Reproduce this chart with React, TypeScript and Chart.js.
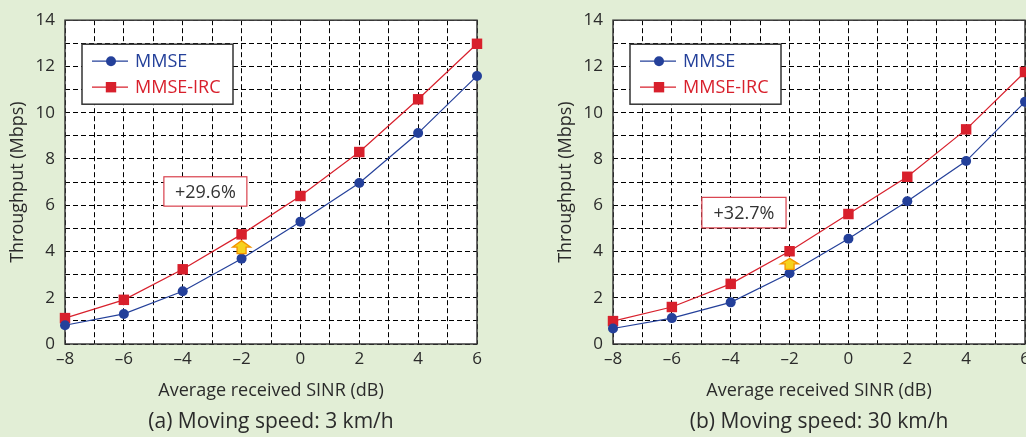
import React, { useEffect, useRef } from 'react';
import { Chart, registerables } from 'chart.js';

Chart.register(...registerables);

// ---- data ----
const sinrDb = [-8, -6, -4, -2, 0, 2, 4, 6];
const mmse3kmh = [0.81, 1.3, 2.28, 3.69, 5.29, 6.96, 9.12, 11.59];
const irc3kmh = [1.12, 1.91, 3.23, 4.74, 6.4, 8.3, 10.58, 12.98];
const mmse30kmh = [0.67, 1.12, 1.8, 3.06, 4.55, 6.17, 7.91, 10.47];
const irc30kmh = [0.99, 1.6, 2.6, 4.01, 5.62, 7.23, 9.28, 11.76];
const seriesNames = ['MMSE', 'MMSE-IRC'];
const gainLabels = ['+29.6%', '+32.7%'];
const captions = ['(a) Moving speed: 3 km/h', '(b) Moving speed: 30 km/h'];
const xTitle = 'Average received SINR (dB)';
const yTitle = 'Throughput (Mbps)';
const xRange = [-8, 6];
const yRange = [0, 14];
const gainAt = -2;

// ---- styles ----
const GREEN = '#e2eed6';
const BLUE = '#24409a';
const RED = '#d8202c';
const TEXT = '#2b2b2b';
const FONT = '"Open Sans", "Noto Sans", sans-serif';

type PanelCfg = {
  left: number;
  canvasWidth: number;
  plotLeft: number;
  plotRight: number;
  mmse: number[];
  irc: number[];
  gain: string;
  caption: string;
  box: { x1: number; x2: number; y1: number; y2: number };
  arrow: { tip: number; base: number };
};

const W = 1026;
const H = 437;

const panels: PanelCfg[] = [
  {
    left: 0,
    canvasWidth: 513,
    plotLeft: 65,
    plotRight: 477,
    mmse: mmse3kmh,
    irc: irc3kmh,
    gain: gainLabels[0],
    caption: captions[0],
    box: { x1: -4.64, x2: -1.82, y1: 7.23, y2: 5.96 },
    arrow: { tip: 4.47, base: 3.91 },
  },
  {
    left: 513,
    canvasWidth: 560,
    plotLeft: 100,
    plotRight: 512,
    mmse: mmse30kmh,
    irc: irc30kmh,
    gain: gainLabels[1],
    caption: captions[1],
    box: { x1: -4.98, x2: -2.12, y1: 6.34, y2: 5.02 },
    arrow: { tip: 3.7, base: 3.23 },
  },
];

function fmtTick(v: number) {
  if (Math.round(v) % 2 !== 0) return '';
  return v < 0 ? '\u2013' + Math.abs(v) : String(v);
}

function Panel({ cfg }: { cfg: PanelCfg }) {
  const ref = useRef<HTMLCanvasElement | null>(null);
  useEffect(() => {
    const canvas = ref.current!;
    const plotTop = 15;
    const plotBottom = 344;

    const overlay = {
      id: 'overlay',
      beforeDraw(chart: any) {
        const { ctx, chartArea: a, width, height } = chart;
        ctx.save();
        ctx.fillStyle = GREEN;
        ctx.fillRect(0, 0, width, height);
        ctx.fillStyle = '#ffffff';
        ctx.fillRect(a.left, a.top, a.right - a.left, a.bottom - a.top);
        ctx.restore();
      },
      beforeDatasetsDraw(chart: any) {
        const { ctx, chartArea: a } = chart;
        ctx.save();
        ctx.strokeStyle = '#3a3a3a';
        ctx.lineWidth = 1.5;
        ctx.strokeRect(a.left, a.top, a.right - a.left, a.bottom - a.top);
        ctx.restore();
      },
      afterDraw(chart: any) {
        const { ctx, chartArea: a } = chart;
        const xs = chart.scales.x;
        const ys = chart.scales.y;
        ctx.save();

        // legend
        const lx = a.left + 17;
        const ly = a.top + 24;
        ctx.fillStyle = '#fff';
        ctx.fillRect(lx, ly, 151, 60);
        ctx.strokeStyle = '#333';
        ctx.lineWidth = 1.5;
        ctx.strokeRect(lx, ly, 151, 60);
        const rows = [
          { y: a.top + 41, color: BLUE, name: seriesNames[0], circle: true },
          { y: a.top + 67, color: RED, name: seriesNames[1], circle: false },
        ];
        for (const r of rows) {
          ctx.strokeStyle = r.color;
          ctx.lineWidth = 1.2;
          ctx.beginPath();
          ctx.moveTo(a.left + 27, r.y);
          ctx.lineTo(a.left + 63, r.y);
          ctx.stroke();
          ctx.fillStyle = r.color;
          if (r.circle) {
            ctx.beginPath();
            ctx.arc(a.left + 46, r.y, 5, 0, Math.PI * 2);
            ctx.fill();
          } else {
            ctx.fillRect(a.left + 46 - 5.2, r.y - 5.2, 10.4, 10.4);
          }
          ctx.font = `18px ${FONT}`;
          ctx.textAlign = 'left';
          ctx.textBaseline = 'middle';
          ctx.fillText(r.name, a.left + 70, r.y + 1);
        }

        // gain annotation box
        const bx1 = xs.getPixelForValue(cfg.box.x1);
        const bx2 = xs.getPixelForValue(cfg.box.x2);
        const by1 = ys.getPixelForValue(cfg.box.y1);
        const by2 = ys.getPixelForValue(cfg.box.y2);
        ctx.fillStyle = '#fff';
        ctx.fillRect(bx1, by1, bx2 - bx1, by2 - by1);
        ctx.strokeStyle = '#d9404c';
        ctx.lineWidth = 1.2;
        ctx.strokeRect(bx1, by1, bx2 - bx1, by2 - by1);
        ctx.fillStyle = '#333';
        ctx.font = `18px ${FONT}`;
        ctx.textAlign = 'center';
        ctx.textBaseline = 'middle';
        ctx.fillText(cfg.gain, (bx1 + bx2) / 2, (by1 + by2) / 2 + 1);

        // arrow
        const ax = xs.getPixelForValue(gainAt);
        const tip = ys.getPixelForValue(cfg.arrow.tip);
        const base = ys.getPixelForValue(cfg.arrow.base);
        const mid = tip + (base - tip) * 0.5;
        ctx.beginPath();
        ctx.moveTo(ax, tip);
        ctx.lineTo(ax + 9, mid);
        ctx.lineTo(ax + 4.5, mid);
        ctx.lineTo(ax + 4.5, base);
        ctx.lineTo(ax - 4.5, base);
        ctx.lineTo(ax - 4.5, mid);
        ctx.lineTo(ax - 9, mid);
        ctx.closePath();
        ctx.fillStyle = '#f6d21c';
        ctx.fill();
        ctx.strokeStyle = '#f39200';
        ctx.lineWidth = 1.3;
        ctx.stroke();

        // axis titles & caption
        ctx.fillStyle = TEXT;
        ctx.font = `18px ${FONT}`;
        ctx.textAlign = 'center';
        ctx.textBaseline = 'middle';
        const cx = (a.left + a.right) / 2;
        ctx.fillText(xTitle, cx, 391);
        ctx.font = `21px ${FONT}`;
        ctx.fillText(cfg.caption, cx, 422);
        ctx.save();
        ctx.translate(a.left - 47, (a.top + a.bottom) / 2);
        ctx.rotate(-Math.PI / 2);
        ctx.font = `18px ${FONT}`;
        ctx.fillText(yTitle, 0, 0);
        ctx.restore();

        ctx.restore();
      },
    };

    const mk = (vals: number[]) => sinrDb.map((x, i) => ({ x, y: vals[i] }));

    const chart = new Chart(canvas, {
      type: 'line',
      data: {
        datasets: [
          {
            label: seriesNames[0],
            data: mk(cfg.mmse),
            borderColor: BLUE,
            backgroundColor: BLUE,
            borderWidth: 1.2,
            pointStyle: 'circle',
            pointRadius: 5,
            pointBorderWidth: 0,
            tension: 0,
            clip: false as any,
          },
          {
            label: seriesNames[1],
            data: mk(cfg.irc),
            borderColor: RED,
            backgroundColor: RED,
            borderWidth: 1.2,
            pointStyle: 'rect',
            pointRadius: 7.4,
            pointBorderWidth: 0,
            tension: 0,
            clip: false as any,
          },
        ],
      },
      options: {
        animation: false,
        responsive: false,
        maintainAspectRatio: false,
        layout: {
          padding: { top: plotTop, right: cfg.canvasWidth - cfg.plotRight, left: 0, bottom: 0 },
        },
        plugins: {
          legend: { display: false },
          tooltip: { enabled: false },
          title: { display: false },
        },
        scales: {
          x: {
            type: 'linear',
            min: xRange[0],
            max: xRange[1],
            afterFit: (s: any) => {
              s.height = H - plotBottom;
            },
            ticks: {
              stepSize: 1,
              autoSkip: false,
              maxRotation: 0,
              padding: 5,
              color: TEXT,
              font: { family: FONT, size: 17 },
              callback: (v: any) => fmtTick(Number(v)),
            },
            grid: {
              color: '#000',
              lineWidth: 1,
              drawTicks: false,
            },
            border: { display: false, dash: [5, 3] },
          },
          y: {
            type: 'linear',
            min: yRange[0],
            max: yRange[1],
            afterFit: (s: any) => {
              s.width = cfg.plotLeft;
            },
            ticks: {
              stepSize: 1,
              autoSkip: false,
              padding: 10,
              color: TEXT,
              font: { family: FONT, size: 17 },
              callback: (v: any) => fmtTick(Number(v)),
            },
            grid: {
              color: '#000',
              lineWidth: 1,
              drawTicks: false,
            },
            border: { display: false, dash: [5, 3] },
          },
        },
      } as any,
      plugins: [overlay],
    });
    return () => chart.destroy();
  }, [cfg]);

  return (
    <canvas
      ref={ref}
      width={cfg.canvasWidth}
      height={H}
      style={{ position: 'absolute', left: cfg.left, top: 0, width: cfg.canvasWidth, height: H }}
    />
  );
}

export default function App() {
  return (
    <div
      style={{
        position: 'fixed',
        left: 0,
        top: 0,
        width: W,
        height: H,
        overflow: 'hidden',
        background: GREEN,
      }}
    >
      {panels.map((p, i) => (
        <Panel key={i} cfg={p} />
      ))}
    </div>
  );
}
